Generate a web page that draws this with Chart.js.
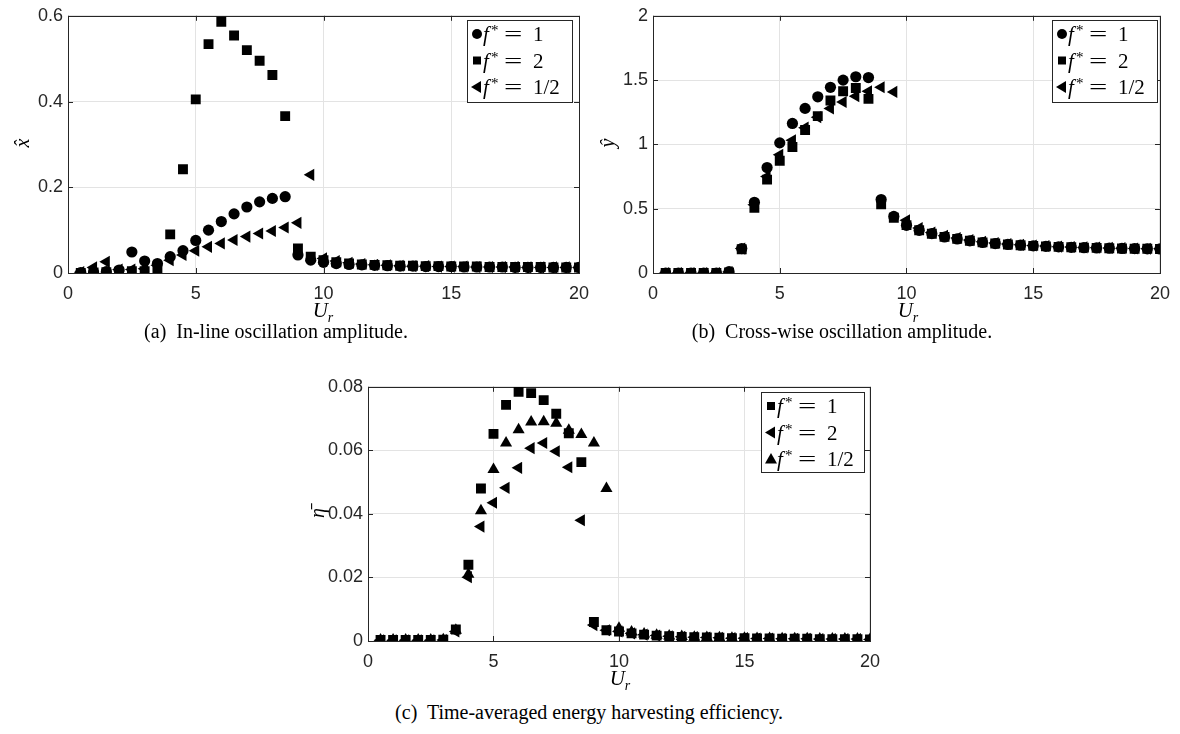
<!DOCTYPE html>
<html>
<head>
<meta charset="utf-8">
<script src="https://cdn.jsdelivr.net/npm/chart.js@4.4.0/dist/chart.umd.min.js"></script>
<style>
  body { margin: 0; width: 1180px; height: 734px; background: #fff; position: relative; overflow: hidden; }
  canvas { position: absolute; }
  .lbl { position: absolute; font-family: "Liberation Serif", "DejaVu Serif", serif; color: #000; white-space: nowrap; }
  .ytitle { transform: translate(-50%, -50%) rotate(-90deg); font-style: italic; font-size: 20px; }
  .xtitle { transform: translate(-50%, -50%); font-size: 21px; }
  .xtitle sub { font-size: 14px; font-style: italic; }
  .caption { transform: translate(-50%, -50%); font-size: 20px; }
</style>
</head>
<body>
<canvas id="chartA" width="600" height="300" style="left:0;top:0"></canvas>
<canvas id="chartB" width="590" height="300" style="left:590px;top:0"></canvas>
<canvas id="chartC" width="590" height="297" style="left:300px;top:371px"></canvas>

<div class="lbl ytitle" style="left:22px;top:143px">x&#770;</div>
<div class="lbl ytitle" style="left:607px;top:143px">&#375;</div>
<div class="lbl ytitle" style="left:317px;top:513px">&#951;&#772;</div>
<div class="lbl xtitle" style="left:323px;top:312px"><i>U</i><sub>r</sub></div>
<div class="lbl xtitle" style="left:908px;top:312px"><i>U</i><sub>r</sub></div>
<div class="lbl xtitle" style="left:620px;top:680px"><i>U</i><sub>r</sub></div>
<div class="lbl caption" style="left:276px;top:331px">(a)&nbsp; In-line oscillation amplitude.</div>
<div class="lbl caption" style="left:842px;top:331px">(b)&nbsp; Cross-wise oscillation amplitude.</div>
<div class="lbl caption" style="left:589px;top:712px">(c)&nbsp; Time-averaged energy harvesting efficiency.</div>

<script>
// reduced velocity U_r
const ur = [0.5,1,1.5,2,2.5,3,3.5,4,4.5,5,5.5,6,6.5,7,7.5,8,8.5,9,9.5,10,
            10.5,11,11.5,12,12.5,13,13.5,14,14.5,15,15.5,16,16.5,17,17.5,18,18.5,19,19.5,20];

// (a) in-line amplitude x^
const xhatF1 = [0.001,0.002,0.003,0.007,0.049,0.028,0.022,0.038,0.052,0.076,
                0.100,0.120,0.138,0.154,0.166,0.174,0.178,0.042,0.030,0.025,
                0.022,0.020,0.019,0.018,0.017,0.016,0.016,0.015,0.015,0.015,
                0.014,0.014,0.014,0.014,0.013,0.013,0.013,0.013,0.013,0.013];
const xhatF2 = [0.000,0.001,0.002,0.003,0.004,0.004,0.010,0.090,0.242,0.405,
                0.534,0.586,0.554,0.520,0.495,0.462,0.366,0.057,0.038,0.030,
                0.025,0.022,0.020,0.019,0.018,0.017,0.017,0.016,0.016,0.015,
                0.015,0.015,0.014,0.014,0.014,0.014,0.014,0.013,0.013,0.013];
const xhatFh = [0.002,0.013,0.026,0.008,0.008,0.010,0.018,0.030,0.042,0.052,
                0.061,0.069,0.077,0.085,0.092,0.098,0.106,0.117,0.229,0.034,
                0.028,0.024,0.021,0.019,0.018,0.017,0.016,0.016,0.015,0.015,
                0.015,0.014,0.014,0.014,0.014,0.013,0.013,0.013,0.013,0.013];

// (b) cross-wise amplitude y^
const yhatF1 = [0.000,0.000,0.000,0.000,0.000,0.010,0.190,0.550,0.820,1.012,
                1.163,1.280,1.370,1.444,1.500,1.526,1.520,0.571,0.440,0.371,
                0.332,0.306,0.280,0.265,0.250,0.237,0.229,0.222,0.216,0.211,
                0.207,0.203,0.200,0.197,0.195,0.193,0.191,0.190,0.188,0.187];
const yhatF2 = [0.000,0.000,0.000,0.000,0.000,0.005,0.185,0.507,0.726,0.873,
                0.980,1.112,1.220,1.341,1.413,1.439,1.354,0.535,0.430,0.372,
                0.333,0.305,0.281,0.265,0.251,0.238,0.229,0.222,0.216,0.211,
                0.207,0.203,0.200,0.197,0.195,0.193,0.191,0.189,0.188,0.187];
const yhatFh = [0.000,0.000,0.000,0.000,0.000,0.008,0.190,0.530,0.750,0.920,
                1.032,1.130,1.212,1.280,1.330,1.375,1.413,1.444,1.408,0.410,
                0.350,0.315,0.290,0.272,0.256,0.243,0.233,0.225,0.219,0.214,
                0.209,0.205,0.202,0.199,0.197,0.195,0.193,0.191,0.189,0.188];

// (c) efficiency eta bar
const etaF1 = [0.0003,0.0003,0.0003,0.0003,0.0003,0.0004,0.0036,0.0240,0.0480,0.0652,
               0.0743,0.0784,0.0780,0.0758,0.0715,0.0654,0.0563,0.0060,0.0034,0.0030,
               0.0024,0.0020,0.0017,0.0015,0.0013,0.0012,0.0011,0.0010,0.0009,0.0009,
               0.0008,0.0008,0.0007,0.0007,0.0007,0.0006,0.0006,0.0006,0.0006,0.0005];
const etaF2 = [0.0002,0.0002,0.0002,0.0002,0.0002,0.0003,0.0030,0.0201,0.0360,0.0435,
               0.0482,0.0545,0.0607,0.0623,0.0597,0.0547,0.0380,0.0050,0.0034,0.0030,
               0.0024,0.0020,0.0017,0.0015,0.0013,0.0012,0.0011,0.0010,0.0009,0.0009,
               0.0008,0.0008,0.0007,0.0007,0.0007,0.0006,0.0006,0.0006,0.0006,0.0005];
const etaFh = [0.0003,0.0003,0.0003,0.0003,0.0003,0.0004,0.0034,0.0210,0.0410,0.0540,
               0.0623,0.0665,0.0689,0.0690,0.0685,0.0663,0.0650,0.0623,0.0480,0.0040,
               0.0028,0.0022,0.0018,0.0016,0.0014,0.0012,0.0011,0.0010,0.0009,0.0009,
               0.0008,0.0008,0.0007,0.0007,0.0007,0.0006,0.0006,0.0006,0.0006,0.0005];

const xTicks = [0, 5, 10, 15, 20];
const yTicksA = [0, 0.2, 0.4, 0.6];
const yTicksB = [0, 0.5, 1, 1.5, 2];
const yTicksC = [0, 0.02, 0.04, 0.06, 0.08];

const legendA = ['1', '2', '1/2'];
const legendB = ['1', '2', '1/2'];
const legendC = ['1', '2', '1/2'];

const AX = '#262626';
const GRID = '#e3e3e3';

const marks = {
  circle: { pointStyle: 'circle', pointRotation: 0, pointRadius: 5.6 },
  square: { pointStyle: 'rect', pointRotation: 0, pointRadius: 7 },
  left:   { pointStyle: 'triangle', pointRotation: -90, pointRadius: 7 },
  up:     { pointStyle: 'triangle', pointRotation: 0, pointRadius: 7 }
};

function pts(ys) {
  return ur.map((x, i) => ({ x: x, y: ys[i] }));
}

function series(label, ys, mark, order) {
  return Object.assign({
    label: label,
    data: pts(ys),
    showLine: false,
    backgroundColor: '#000',
    borderColor: '#000',
    pointBorderWidth: 0,
    order: order
  }, marks[mark]);
}

// small legend marker, same shapes as the data
function drawMark(ctx, kind, x, y) {
  ctx.beginPath();
  if (kind === 'circle') {
    ctx.arc(x, y, 5, 0, Math.PI * 2);
  } else if (kind === 'square') {
    ctx.rect(x - 4, y - 4, 8, 8);
  } else if (kind === 'left') {
    ctx.moveTo(x - 6, y); ctx.lineTo(x + 4, y - 6); ctx.lineTo(x + 4, y + 6); ctx.closePath();
  } else {
    ctx.moveTo(x, y - 6); ctx.lineTo(x + 6, y + 4.5); ctx.lineTo(x - 6, y + 4.5); ctx.closePath();
  }
  ctx.fill();
}

const frame = {
  id: 'frame',
  beforeDatasetsDraw(chart) {
    const { ctx, chartArea: a, scales } = chart;
    ctx.save();
    ctx.strokeStyle = AX;
    ctx.lineWidth = 1;
    ctx.beginPath();
    scales.x.ticks.forEach(t => {
      const px = Math.round(scales.x.getPixelForValue(t.value)) + 0.5;
      ctx.moveTo(px, a.bottom); ctx.lineTo(px, a.bottom - 5);
      ctx.moveTo(px, a.top); ctx.lineTo(px, a.top + 5);
    });
    scales.y.ticks.forEach(t => {
      const py = Math.round(scales.y.getPixelForValue(t.value)) + 0.5;
      ctx.moveTo(a.left, py); ctx.lineTo(a.left + 5, py);
      ctx.moveTo(a.right, py); ctx.lineTo(a.right - 5, py);
    });
    ctx.stroke();
    ctx.strokeRect(Math.round(a.left) + 0.5, Math.round(a.top) + 0.5,
                   Math.round(a.right - a.left), Math.round(a.bottom - a.top));
    ctx.restore();
  },
  afterDatasetsDraw(chart, args, opts) {
    const ctx = chart.ctx;
    const b = opts.box;
    ctx.save();
    ctx.fillStyle = '#fff';
    ctx.fillRect(b.x, b.y, b.w, b.h);
    ctx.strokeStyle = AX;
    ctx.lineWidth = 1;
    ctx.strokeRect(b.x + 0.5, b.y + 0.5, b.w, b.h);
    ctx.fillStyle = '#000';
    ctx.textBaseline = 'alphabetic';
    opts.items.forEach((it, i) => {
      const cy = b.y + 14 + i * 26.5;
      drawMark(ctx, it.mark, b.x + 10, cy);
      const tx = b.x + 16;
      const base = cy + 7;
      ctx.font = 'italic 21px "Liberation Serif"';
      ctx.fillText('f', tx, base);
      ctx.font = '15px "Liberation Serif"';
      ctx.fillText('*', tx + 8, base - 6);
      // wide math-style equals sign
      ctx.save();
      ctx.translate(tx + 21, base);
      ctx.scale(1.55, 1);
      ctx.font = '21px "Liberation Serif"';
      ctx.fillText('=', 0, 0);
      ctx.restore();
      ctx.font = '21px "Liberation Serif"';
      ctx.fillText(it.text, tx + 50, base);
    });
    ctx.restore();
  }
};

function makeChart(id, datasets, yTicks, yMax, yWidth, padRight, legend) {
  return new Chart(document.getElementById(id), {
    type: 'scatter',
    data: { datasets: datasets },
    options: {
      responsive: false,
      animation: false,
      events: [],
      layout: { padding: { left: 0, top: 14, right: padRight, bottom: 0 } },
      plugins: {
        legend: { display: false },
        tooltip: { enabled: false },
        frame: legend
      },
      scales: {
        x: {
          type: 'linear', min: 0, max: 20,
          afterBuildTicks: s => { s.ticks = xTicks.map(v => ({ value: v })); },
          afterFit: s => { s.height = 27; },
          grid: { color: GRID, drawTicks: false },
          border: { display: false },
          ticks: { padding: 10, color: AX, autoSkip: false, maxRotation: 0,
                   font: { family: 'Liberation Sans', size: 18 },
                   callback: v => String(v) }
        },
        y: {
          type: 'linear', min: 0, max: yMax,
          afterBuildTicks: s => { s.ticks = yTicks.map(v => ({ value: v })); },
          afterFit: s => { s.width = yWidth; },
          grid: { color: GRID, drawTicks: false },
          border: { display: false },
          ticks: { padding: 5, color: AX, autoSkip: false,
                   font: { family: 'Liberation Sans', size: 18 },
                   callback: v => String(v) }
        }
      }
    },
    plugins: [frame]
  });
}

makeChart('chartA', [
  series('f* = 1', xhatF1, 'circle', 3),
  series('f* = 2', xhatF2, 'square', 2),
  series('f* = 1/2', xhatFh, 'left', 1)
], yTicksA, 0.6, 68, 21, {
  box: { x: 467, y: 20, w: 105, h: 82 },
  items: [{ mark: 'circle', text: legendA[0] }, { mark: 'square', text: legendA[1] }, { mark: 'left', text: legendA[2] }]
});

makeChart('chartB', [
  series('f* = 1', yhatF1, 'circle', 3),
  series('f* = 2', yhatF2, 'square', 2),
  series('f* = 1/2', yhatFh, 'left', 1)
], yTicksB, 2, 63, 17, {
  box: { x: 462, y: 20, w: 105, h: 82 },
  items: [{ mark: 'circle', text: legendB[0] }, { mark: 'square', text: legendB[1] }, { mark: 'left', text: legendB[2] }]
});

makeChart('chartC', [
  series('f* = 1', etaF1, 'square', 3),
  series('f* = 2', etaF2, 'left', 2),
  series('f* = 1/2', etaFh, 'up', 1)
], yTicksC, 0.08, 68, 18, {
  box: { x: 461, y: 21, w: 103, h: 80 },
  items: [{ mark: 'square', text: legendC[0] }, { mark: 'left', text: legendC[1] }, { mark: 'up', text: legendC[2] }]
});
</script>
</body>
</html>
